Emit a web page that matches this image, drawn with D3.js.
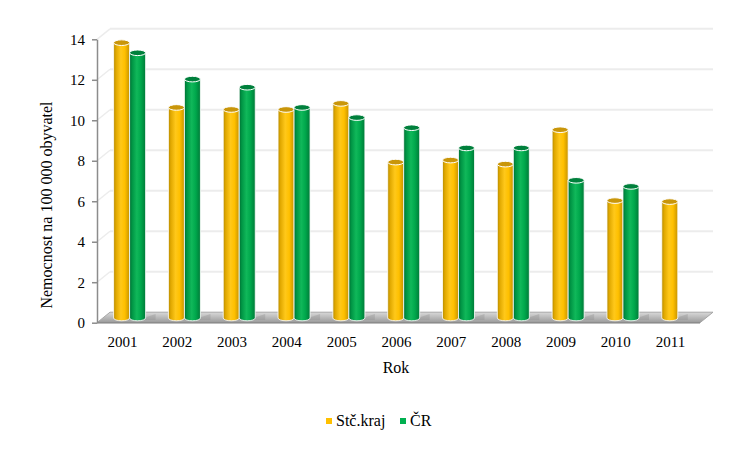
<!DOCTYPE html>
<html><head><meta charset="utf-8">
<script src="https://cdn.jsdelivr.net/npm/d3@7"></script>
<style>body{margin:0;background:#fff}svg{display:block}</style>
</head><body><svg id="c" width="750" height="450"></svg>
<script>
const years = ["2001","2002","2003","2004","2005","2006","2007","2008","2009","2010","2011"];
const stcKraj = [13.6,10.4,10.3,10.3,10.6,7.7,7.8,7.6,9.3,5.8,5.75];
const cr = [13.1,11.8,11.4,10.4,9.9,9.4,8.4,8.4,6.8,6.5,null];
const seriesNames = ["Stč.kraj","ČR"];
const yTicks = [0,2,4,6,8,10,12,14];

(function(){
const FONT = "Liberation Serif, DejaVu Serif, serif";
const svg = d3.select("#c");
const pLeft = 97, pRight = 700, pBottom = 322.7, pTop = 39.3;
const depthX = 13, depthY = -10.5;
const x = d3.scaleBand().domain(years).range([pLeft, pRight]);
const y = d3.scaleLinear().domain([0,14]).range([pBottom, pTop]);
const defs = svg.append("defs");
function cyl(id, stops){
  const g = defs.append("linearGradient").attr("id",id).attr("x1","0").attr("x2","1").attr("y1","0").attr("y2","0");
  stops.forEach(s=>g.append("stop").attr("offset",s[0]).attr("stop-color",s[1]));
}
cyl("gy",[[0,"#b58a00"],[0.15,"#e0a800"],[0.45,"#ffc81a"],[0.7,"#ffc000"],[1,"#c79300"]]);
cyl("gg",[[0,"#006e32"],[0.15,"#009444"],[0.45,"#10b85a"],[0.7,"#00a84c"],[1,"#007a38"]]);
const fl = defs.append("linearGradient").attr("id","fl").attr("x1","0").attr("x2","0").attr("y1","0").attr("y2","1");
fl.append("stop").attr("offset",0).attr("stop-color","#d9d9d9");
fl.append("stop").attr("offset",1).attr("stop-color","#9a9a9a");

const grid = svg.append("g");
yTicks.filter(t=>t>0).forEach(t=>{
  const yy = y(t);
  grid.append("line").attr("x1",pLeft+depthX).attr("x2",pRight+depthX).attr("y1",yy+depthY).attr("y2",yy+depthY)
    .attr("stroke","#ececec").attr("stroke-width",2);
  grid.append("line").attr("x1",pLeft).attr("x2",pLeft+depthX).attr("y1",yy).attr("y2",yy+depthY)
    .attr("stroke","#ececec").attr("stroke-width",1.5);
});

svg.append("path").attr("d",`M${pLeft},${pBottom}L${pRight},${pBottom}L${pRight+depthX},${pBottom+depthY}L${pLeft+depthX},${pBottom+depthY}Z`)
  .attr("fill","url(#fl)").attr("stroke","#a6a6a6").attr("stroke-width",1);

const bw = 16, mdx = depthX*0.4, mdy = depthY*0.45, ry = 2.8;
const barsG = svg.append("g");
years.forEach((yr,i)=>{
  const c = x(yr) + x.bandwidth()/2 + mdx;
  [[stcKraj[i],"gy","#c9960a",c-bw],[cr[i],"gg","#00803c",c]].forEach(([v,grad,topc,x0])=>{
    if(v==null) return;
    const yb = pBottom + mdy, yt = y(v) + mdy;
    barsG.append("path").attr("d",`M${x0+bw-2},${yb}L${x0+bw+10},${yb-4}L${x0+bw+10},${yb+2}L${x0+bw-2},${yb+2}Z`).attr("fill","#8c8c8c").attr("opacity",0.35);
    barsG.append("path")
      .attr("d",`M${x0},${yt}L${x0},${yb}A${bw/2},${ry} 0 0 0 ${x0+bw},${yb}L${x0+bw},${yt}Z`)
      .attr("fill",`url(#${grad})`).attr("stroke","#fff").attr("stroke-width",0.8);
    barsG.append("ellipse").attr("cx",x0+bw/2).attr("cy",yt).attr("rx",bw/2).attr("ry",ry)
      .attr("fill",topc).attr("stroke","#fff").attr("stroke-width",1);
  });
});

const ax = svg.append("g").attr("transform",`translate(${pLeft},0)`)
  .call(d3.axisLeft(y).tickValues(yTicks).tickSize(5).tickSizeOuter(0).tickPadding(7));
ax.attr("font-family",FONT).attr("font-size",15);
ax.select(".domain").attr("stroke","#8c8c8c").attr("stroke-width",1.5);
ax.selectAll(".tick line").attr("stroke","#8c8c8c").attr("stroke-width",1.5);
ax.selectAll(".tick text").attr("fill","#000");

svg.append("line").attr("x1",pLeft).attr("x2",pRight).attr("y1",pBottom).attr("y2",pBottom).attr("stroke","#8c8c8c").attr("stroke-width",1.5);

svg.append("g").attr("font-family",FONT).attr("font-size",15).selectAll("text").data(years).join("text")
  .attr("x",d=>x(d)+x.bandwidth()/2-2).attr("y",347).attr("text-anchor","middle").text(d=>d);

svg.append("text").attr("x",396).attr("y",373).attr("text-anchor","middle").attr("font-family",FONT).attr("font-size",16).text("Rok");
svg.append("text").attr("transform","translate(52,205) rotate(-90)").attr("text-anchor","middle")
  .attr("font-family",FONT).attr("font-size",16).text("Nemocnost na 100 000 obyvatel");

const lg = svg.append("g").attr("font-family",FONT).attr("font-size",16);
const leg = [[seriesNames[0],"#ffc000",326],[seriesNames[1],"#00b050",400]];
leg.forEach(([n,c,lx])=>{
  lg.append("rect").attr("x",lx).attr("y",418).attr("width",6).attr("height",6).attr("fill",c);
  lg.append("text").attr("x",lx+10).attr("y",426).text(n);
});
})();
</script></body></html>
